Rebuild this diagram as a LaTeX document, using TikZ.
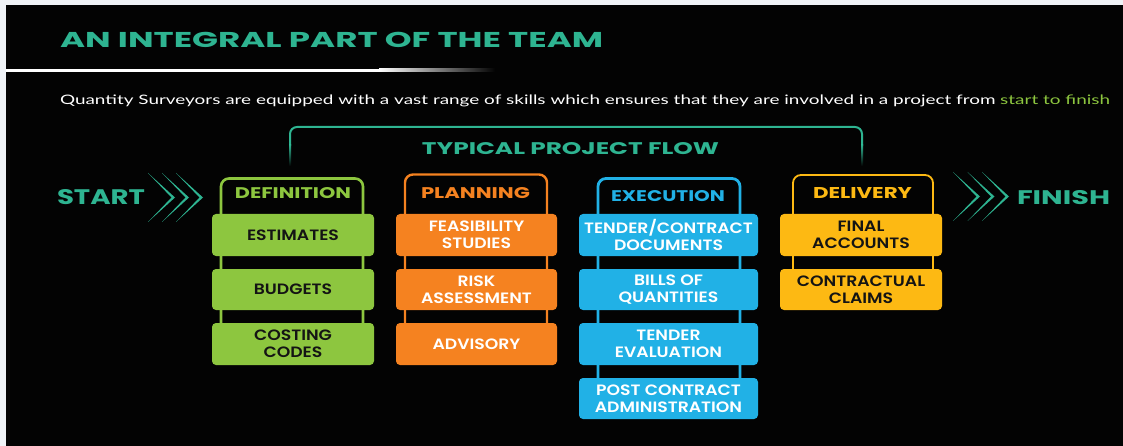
\documentclass[tikz,border=0pt]{standalone}
\usepackage{fontspec}
\usepackage{graphicx}
\setmainfont{Poppins}
\newfontfamily\itemfont[FakeStretch=1.15,BoldFont={Poppins SemiBold}]{Poppins}
\newfontfamily\subfont{Lato}
\definecolor{qbg}{RGB}{240,243,247}
\definecolor{qblack}{RGB}{3,3,3}
\definecolor{qteal}{RGB}{46,180,145}
\definecolor{qgreen}{RGB}{141,198,63}
\definecolor{qorange}{RGB}{245,130,32}
\definecolor{qblue}{RGB}{33,177,230}
\definecolor{qyellow}{RGB}{253,185,19}
\definecolor{qdark}{RGB}{20,20,20}
\newcommand\sizedtext[3]{\resizebox{#1pt}{#2pt}{#3}}
\begin{document}
\begin{tikzpicture}[x=1pt,y=-1pt,
  txt/.style={inner sep=0pt,outer sep=0pt},
  itembox/.style={rounded corners=4pt,inner sep=0pt,align=center,
    font=\itemfont\bfseries\fontsize{15}{17}\selectfont},
  defbox/.style={itembox,fill=qgreen,text=qdark,minimum width=162pt},
  planbox/.style={itembox,fill=qorange,text=white,minimum width=161pt},
  execbox/.style={itembox,fill=qblue,text=white,minimum width=179pt},
  delbox/.style={itembox,fill=qyellow,text=qdark,minimum width=162pt},
  tall/.style={minimum height=42pt},
  short/.style={minimum height=41pt},
  chev/.style={fill=qteal},
]
\useasboundingbox (0,0) rectangle (1123,446);
\fill[qbg] (0,0) rectangle (1123,446);
\fill[qblack] (6,5) rectangle (1123,446);

% title
\node[txt,anchor=west,text=qteal] (title) at (60,39.5)
  {\sizedtext{543}{15.3}{\bfseries AN INTEGRAL PART OF THE TEAM}};
\fill[white] (6,69) rectangle (380,72);
\shade[left color=white,right color=qblack] (379,69) rectangle (495,72);

% subtitle
\node[txt,anchor=base west,text=white] (sub) at (60,105)
  {\sizedtext{1050}{9.6}{\subfont Quantity Surveyors are equipped with a vast range of skills which ensures that they are involved in a project from \textcolor{qgreen}{start to finish}}};

% bracket
\draw[qteal,line width=2pt,rounded corners=7pt] (290,146) -- (290,127) -- (862,127) -- (862,146);
\shade[top color=qteal,bottom color=qblack] (289,145) rectangle (291,166);
\shade[top color=qteal,bottom color=qblack] (861,145) rectangle (863,166);
\node[txt,text=qteal] (flow) at (570.5,149)
  {\sizedtext{297}{12}{\bfseries TYPICAL PROJECT FLOW}};

% start / finish
\node[txt,anchor=west,text=qteal] (start) at (57,197.5)
  {\sizedtext{88}{15}{\bfseries START}};
\node[txt,anchor=west,text=qteal] (finish) at (1017,198)
  {\sizedtext{93}{14}{\bfseries FINISH}};
\foreach \x in {148,162,176}{
  \fill[chev] (\x,173) -- (\x+27,197.5) -- (\x,222) -- (\x+23.5,197.5) -- cycle;}
\foreach \x in {953,967.5,982}{
  \fill[chev] (\x,172) -- (\x+27,196.5) -- (\x,221) -- (\x+23.5,196.5) -- cycle;}

% column outlines (ladders)
\draw[qgreen,line width=2.6pt,rounded corners=8pt] (221,360) -- (221,178.5) -- (363,178.5) -- (363,360);
\draw[qorange,line width=2.4pt,rounded corners=8pt] (405,360) -- (405,174.5) -- (547,174.5) -- (547,360);
\draw[qblue,line width=2.8pt,rounded corners=8pt] (598,414) -- (598,178.5) -- (740,178.5) -- (740,414);
\draw[qyellow,line width=1.8pt,rounded corners=8pt] (793,305) -- (793,175) -- (933,175) -- (933,305);

% headers
\node[txt,text=qgreen] (hdef) at (293,193.5) {\sizedtext{116}{11}{\bfseries DEFINITION}};
\node[txt,text=qorange] (hplan) at (475.5,193.5) {\sizedtext{109}{11}{\bfseries PLANNING}};
\node[txt,text=qblue] (hexec) at (668,196.5) {\sizedtext{114}{11}{\bfseries EXECUTION}};
\node[txt,text=qyellow] (hdel) at (862.5,193.5) {\sizedtext{99}{11}{\bfseries DELIVERY}};

% definition
\node[defbox,tall] (d1) at (293,235) {ESTIMATES};
\node[defbox,short] (d2) at (293,289.5) {BUDGETS};
\node[defbox,tall] (d3) at (293,344) {COSTING\\CODES};
% planning
\node[planbox,tall] (p1) at (476.5,235) {FEASIBILITY\\STUDIES};
\node[planbox,short] (p2) at (476.5,289.5) {RISK\\ASSESSMENT};
\node[planbox,tall] (p3) at (476.5,344) {ADVISORY};
% execution
\node[execbox,tall] (e1) at (668.5,235) {TENDER/CONTRACT\\DOCUMENTS};
\node[execbox,short] (e2) at (668.5,289.5) {BILLS OF\\QUANTITIES};
\node[execbox,tall] (e3) at (668.5,344) {TENDER\\EVALUATION};
\node[execbox,short] (e4) at (668.5,398.5) {POST CONTRACT\\ADMINISTRATION};
% delivery
\node[delbox,tall] (v1) at (861,235) {FINAL\\ACCOUNTS};
\node[delbox,short] (v2) at (861,289.5) {CONTRACTUAL\\CLAIMS};
\end{tikzpicture}
\end{document}
